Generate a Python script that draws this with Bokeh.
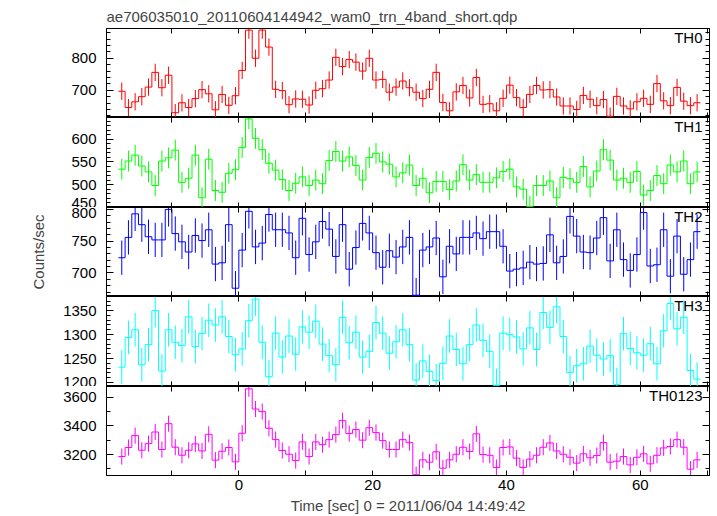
import numpy as np
from bokeh.plotting import figure
from bokeh.layouts import column
from bokeh.models import Range1d, LinearAxis, SingleIntervalTicker, Label
from bokeh.embed import file_html
from bokeh.resources import INLINE

# ---- data (1-s bins, centres from -17.5 s to 68.5 s) ----
time_centers = np.arange(-17.5, 69.0, 1.0)

th0 = [697, 646, 664, 680, 710, 756, 708, 747, 630, 661, 646, 674, 702, 689, 639, 687, 653, 683, 762, 888,
       800, 888, 835, 703, 699, 655, 673, 672, 654, 700, 705, 732, 803, 774, 796, 788, 760, 800, 732, 734,
       694, 710, 729, 708,
       694, 674, 703, 756, 662, 636, 695, 715, 676, 740, 656, 658, 636, 675, 716, 677, 646, 687, 715, 701,
       702, 679, 651, 651, 640, 684, 672, 652, 671, 619, 681, 651, 642, 664, 675, 656, 721, 667, 652, 709,
       666, 652, 661]
th1 = [534, 552, 565, 541, 528, 498, 552, 559, 576, 505, 514, 565, 471, 556, 487, 483, 525, 533, 582, 645,
       602, 577, 547, 532, 511, 487, 503, 517, 498, 510, 502, 553, 573, 552, 561, 542, 510, 560, 569, 550,
       545, 517, 526, 543,
       498, 514, 482, 507, 507, 489, 508, 544, 510, 522, 505, 505, 515, 529, 534, 495, 490, 452, 498, 498,
       508, 471, 516, 513, 505, 540, 495, 530, 577, 554, 510, 514, 505, 529, 477, 487, 520, 502, 543, 528,
       552, 502, 528]
th2 = [724, 756, 793, 776, 757, 752, 752, 800, 762, 749, 733, 759, 751, 768, 714, 716, 776, 676, 736, 797,
       741, 747, 792, 768, 768, 763, 724, 786, 729, 749, 781, 769, 726, 776, 706, 740, 778, 763, 732, 709,
       735, 725, 741, 756,
       665, 736, 741, 755, 694, 742, 730, 756, 756, 763, 754, 765, 765, 742, 703, 706, 708, 717, 714, 715,
       760, 716, 726, 789, 758, 733, 732, 755, 787, 719, 768, 721, 704, 729, 795, 711, 713, 768, 695, 758,
       698, 721, 765]
th3 = [1232, 1294, 1310, 1237, 1279, 1350, 1224, 1310, 1284, 1277, 1337, 1275, 1302, 1330, 1320, 1337, 1296,
       1258, 1270, 1329, 1374, 1284, 1212, 1303, 1253, 1297, 1259, 1316, 1305, 1328, 1280, 1256, 1237, 1336,
       1283, 1305, 1253, 1265, 1325, 1303, 1261, 1285, 1310, 1279,
       1205, 1245, 1223, 1204, 1240, 1297, 1269, 1239, 1279, 1320, 1288, 1265, 1194, 1303, 1300, 1295, 1270,
       1314, 1269, 1346, 1315, 1358, 1296, 1221, 1235, 1239, 1276, 1257, 1249, 1256, 1196, 1302, 1271, 1262,
       1257, 1281, 1239, 1308, 1365, 1312, 1336, 1225, 1207]
th0123 = [3186, 3249, 3332, 3230, 3276, 3357, 3235, 3415, 3251, 3195, 3230, 3274, 3225, 3341, 3161, 3223,
          3249, 3149, 3348, 3658, 3517, 3499, 3383, 3304, 3228, 3202, 3158, 3288, 3186, 3288, 3269, 3304,
          3339, 3436, 3346, 3374, 3300, 3387, 3353, 3297, 3235, 3235, 3304, 3283,
          3060, 3163, 3147, 3219, 3105, 3163, 3202, 3251, 3221, 3344, 3200, 3195, 3110, 3249, 3253, 3175,
          3110, 3168, 3195, 3251, 3281, 3225, 3202, 3181, 3140, 3205, 3177, 3193, 3283, 3147, 3154, 3186,
          3128, 3181, 3205, 3135, 3195, 3246, 3256, 3304, 3251, 3098, 3163]

errors = [27, 23, 27, 35, 56]
series = [th0, th1, th2, th3, th0123]
names = ["TH0", "TH1", "TH2", "TH3", "TH0123"]
colors = ["#ff0000", "#00ff00", "#0000ff", "#00ffff", "#ff00ff"]
y_limits = [(615, 893), (449.5, 648), (663, 803), (1191.6, 1379.5), (3054, 3674)]
y_major = [100, 50, 50, 50, 200]
y_minor = [5, 5, 5, 5, 2]

title_text = "ae706035010_20110604144942_wam0_trn_4band_short.qdp"
x_title = "Time [sec] 0 = 2011/06/04 14:49:42"
y_title = "Counts/sec"

FONT = "Liberation Sans"
FS = "15px"
FW = 603
frame_heights = [89, 90, 89, 90, 89]
x_range = Range1d(-19.78, 70.35)

edges = np.append(time_centers - 0.5, time_centers[-1] + 0.5)


def style_axis(ax, show_labels, tin, mtin):
    ax.major_tick_in = tin
    ax.major_tick_out = 0
    ax.minor_tick_in = mtin
    ax.minor_tick_out = 0
    ax.axis_line_color = "black"
    ax.major_tick_line_color = "black"
    ax.minor_tick_line_color = "black"
    ax.major_label_text_font = FONT
    ax.major_label_text_font_size = FS
    if show_labels:
        ax.major_label_text_color = "black"
    else:
        ax.major_label_text_color = None
        ax.major_label_standoff = 0


panels = []
for i in range(5):
    lo, hi = y_limits[i]
    first = i == 0
    last = i == 4
    p = figure(frame_width=FW, frame_height=frame_heights[i], x_range=x_range,
               y_range=Range1d(lo, hi), output_backend="svg", toolbar_location=None,
               x_axis_location=None, y_axis_location=None,
               min_border_left=106, min_border_right=3,
               min_border_top=28 if first else 0, min_border_bottom=0,
               background_fill_color="white", border_fill_color="white")
    p.outline_line_color = "black"
    p.grid.visible = False

    yt = SingleIntervalTicker(interval=y_major[i], num_minor_ticks=y_minor[i])
    xt = SingleIntervalTicker(interval=10, num_minor_ticks=0)

    left = LinearAxis(ticker=yt)
    style_axis(left, True, 7, 4)
    left.major_label_standoff = 10
    if i == 2:
        left.axis_label = y_title
        left.axis_label_text_font = FONT
        left.axis_label_text_font_size = FS
        left.axis_label_text_font_style = "normal"
        left.axis_label_standoff = 21
    right = LinearAxis(ticker=yt)
    style_axis(right, False, 7, 4)
    top = LinearAxis(ticker=xt)
    style_axis(top, False, 5, 0)
    bottom = LinearAxis(ticker=xt)
    style_axis(bottom, last, 5, 0)
    if last:
        bottom.major_label_overrides = {-10: "", 10: "", 30: "", 50: "", 70: ""}
        bottom.major_label_standoff = 4
        bottom.axis_label = x_title
        bottom.axis_label_text_font = FONT
        bottom.axis_label_text_font_size = FS
        bottom.axis_label_text_font_style = "normal"
        bottom.axis_label_standoff = 4
    p.add_layout(left, "left")
    p.add_layout(right, "right")
    p.add_layout(top, "above")
    p.add_layout(bottom, "below")

    if first:
        p.title.text = title_text
        p.title.text_font = FONT
        p.title.text_font_size = FS
        p.title.text_font_style = "normal"
        p.title.align = "left"
        p.title.offset = 0
        p.title.standoff = 7

    vals = np.array(series[i], dtype=float)
    err = errors[i]
    p.segment(x0=time_centers, y0=vals - err, x1=time_centers, y1=vals + err,
              line_color=colors[i], line_width=1)
    p.step(x=edges, y=np.append(vals, vals[-1]), mode="after",
           line_color=colors[i], line_width=1)

    p.add_layout(Label(x=69.3, y=hi, text=names[i],
                       text_align="right", text_baseline="top", text_font=FONT,
                       text_font_size=FS, text_color="black"))
    panels.append(p)

layout = column(*panels, spacing=0)
open("out.html", "w").write(file_html(layout, INLINE))
